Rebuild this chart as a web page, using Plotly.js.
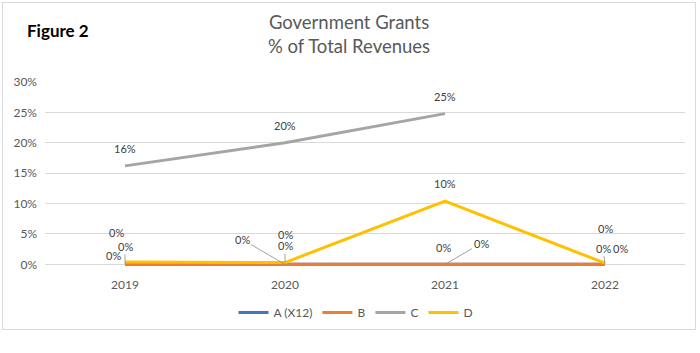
<!DOCTYPE html>
<html>
<head>
<meta charset="utf-8">
<script src="https://cdn.plot.ly/plotly-3.0.1.min.js"></script>
<style>
html,body{margin:0;padding:0;background:#fff;}
#frame{position:absolute;left:2px;top:2px;width:694px;height:328px;border:1px solid #d9d9d9;box-sizing:border-box;}
#chart{position:absolute;left:0;top:0;width:700px;height:353px;}
</style>
</head>
<body>
<div id="frame"></div>
<div id="chart"></div>
<script>
const years = ['2019', '2020', '2021', '2022'];
const seriesNames = ['A (X12)', 'B', 'C', 'D'];
const valuesA = [0, 0, 0, 0];
const valuesB = [0, 0, 0, 0];
const valuesC = [0.162, 0.200, 0.248, null];
const valuesD = [0.004, 0.003, 0.104, 0.002];
const yTickLabels = ['0%', '5%', '10%', '15%', '20%', '25%', '30%'];

const colors = ['#4472C4', '#ED7D31', '#A5A5A5', '#FFC000'];
const allValues = [valuesA, valuesB, valuesC, valuesD];

const traces = allValues.map((vals, i) => ({
  type: 'scatter', mode: 'lines', x: years, y: vals, name: seriesNames[i],
  line: {color: colors[i], width: 3}, hoverinfo: 'skip'
}));

// label placement: [seriesIndex, yearIndex, dx, dy, showLeader]
const labelPlacement = [
  [2, 0, 0, -17, false], [2, 1, 0, -17, false], [2, 2, 0, -17, false],
  [3, 2, 0, -18, false],
  [0, 0, -9, -32, false], [1, 0, 0, -18, true], [3, 0, -12, -6, false],
  [0, 1, -43, -25, true], [1, 1, 0, -30, false], [3, 1, 0, -17, true],
  [0, 2, -2, -17, false], [1, 2, 36, -21, true],
  [0, 3, 0, -36, false], [1, 3, -2, -16, true], [3, 3, 15, -15, false]
];

const labelFont = {family: 'Lato, sans-serif', size: 11, color: '#404040'};
const fmt = v => Math.round(v * 100) + '%';
const annotations = labelPlacement.map(([s, yi, dx, dy, leader]) => {
  const v = allValues[s][yi];
  if (leader) {
    return {x: yi, y: v, xref: 'x', yref: 'y', text: fmt(v), showarrow: true,
      arrowhead: 0, arrowwidth: 0.8, arrowcolor: '#8c8c8c', ax: dx, ay: dy, standoff: 0,
      font: labelFont};
  }
  return {x: yi, y: v, xref: 'x', yref: 'y', text: fmt(v), showarrow: false,
    xshift: dx, yshift: -dy, font: labelFont};
});

// plot area: 0% at y=264px, 30% at y=82px; range padded slightly below 0 so the 0-line is not clipped
const yMin = -0.006, yMax = 0.30;
const pxPerUnit = 182 / 0.30;
const plotTop = 82;
const plotBottom = 264 + (-yMin) * pxPerUnit;
const plotH = plotBottom - plotTop;
const toPaperY = px => (plotBottom - px) / plotH;

annotations.push({text: '<b>Figure 2</b>', xref: 'paper', yref: 'paper', x: -0.031, y: toPaperY(31),
  xanchor: 'left', yanchor: 'middle', showarrow: false,
  font: {family: 'Lato, sans-serif', size: 17, color: '#000'}});
annotations.push({text: 'Government Grants<br>% of Total Revenues', xref: 'paper', yref: 'paper',
  x: (349 - 45) / 640, y: toPaperY(34.5), xanchor: 'center', yanchor: 'middle', showarrow: false,
  font: {family: 'Lato, sans-serif', size: 18.5, color: '#595959'}});

const layout = {
  width: 700, height: 353,
  margin: {l: 45, r: 15, t: plotTop, b: 353 - plotBottom},
  paper_bgcolor: 'rgba(0,0,0,0)', plot_bgcolor: 'rgba(0,0,0,0)',
  xaxis: {type: 'category', range: [-0.5, 3.5], showgrid: false, zeroline: false, showline: false,
    ticks: '', ticklabelstandoff: 8, tickfont: {family: 'Lato, sans-serif', size: 12, color: '#595959'}},
  yaxis: {range: [yMin, yMax], tickvals: [0, 0.05, 0.10, 0.15, 0.20, 0.25, 0.30], ticktext: yTickLabels,
    showgrid: true, gridcolor: '#d9d9d9', gridwidth: 1, zeroline: false, showline: false,
    ticks: '', ticklabelstandoff: 7, tickfont: {family: 'Lato, sans-serif', size: 12, color: '#595959'}},
  legend: {orientation: 'h', x: (356 - 45) / 640, xanchor: 'center', y: toPaperY(312), yanchor: 'middle',
    font: {family: 'Lato, sans-serif', size: 12, color: '#595959'}, itemwidth: 30},
  showlegend: true,
  annotations: annotations
};

Plotly.newPlot('chart', traces, layout, {staticPlot: true});
</script>
</body>
</html>
